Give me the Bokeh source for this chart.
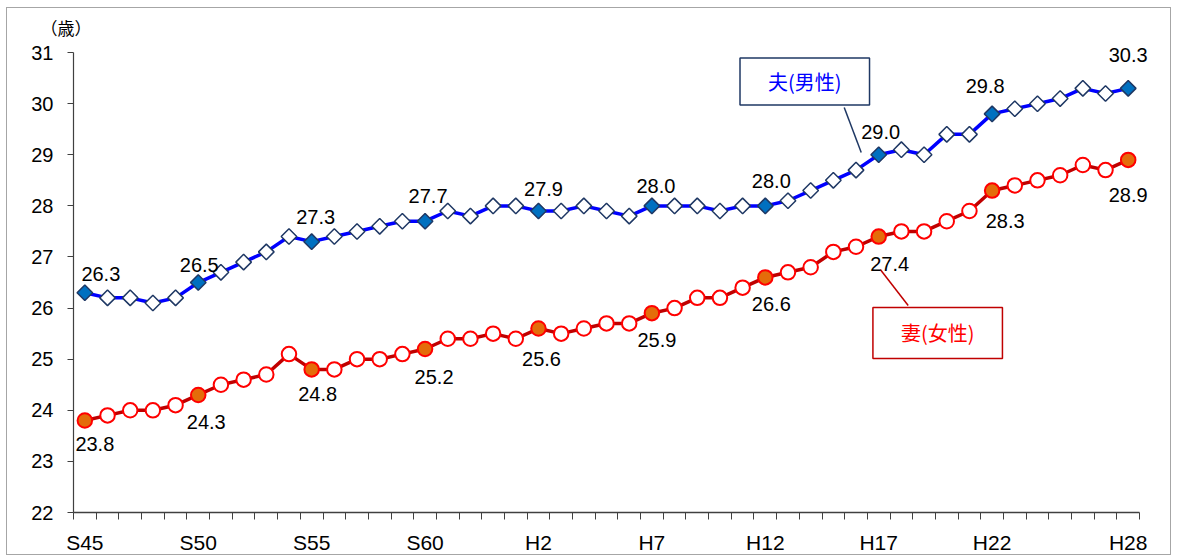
import math
from bokeh.plotting import figure
from bokeh.models import Range1d, FixedTicker, ColumnDataSource, LabelSet, Label
from bokeh.embed import file_html
from bokeh.resources import INLINE
from bokeh.core.properties import value

# ---- data ----
years = list(range(1970, 2017))
tick_years = [1970, 1975, 1980, 1985, 1990, 1995, 2000, 2005, 2010, 2016]
tick_labels = ["S45", "S50", "S55", "S60", "H2", "H7", "H12", "H17", "H22", "H28"]
husband = [26.3, 26.2, 26.2, 26.1, 26.2,
           26.5, 26.7, 26.9, 27.1, 27.4,
           27.3, 27.4, 27.5, 27.6, 27.7,
           27.7, 27.9, 27.8, 28.0, 28.0,
           27.9, 27.9, 28.0, 27.9, 27.8,
           28.0, 28.0, 28.0, 27.9, 28.0,
           28.0, 28.1, 28.3, 28.5, 28.7,
           29.0, 29.1, 29.0, 29.4, 29.4,
           29.8, 29.9, 30.0, 30.1, 30.3, 30.2,
           30.3]
wife = [23.8, 23.9, 24.0, 24.0, 24.1,
        24.3, 24.5, 24.6, 24.7, 25.1,
        24.8, 24.8, 25.0, 25.0, 25.1,
        25.2, 25.4, 25.4, 25.5, 25.4,
        25.6, 25.5, 25.6, 25.7, 25.7,
        25.9, 26.0, 26.2, 26.2, 26.4,
        26.6, 26.7, 26.8, 27.1, 27.2,
        27.4, 27.5, 27.5, 27.7, 27.9,
        28.3, 28.4, 28.5, 28.6, 28.8, 28.7,
        28.9]
labeled_years = tick_years
y_ticks = list(range(22, 32))

# label offsets in pixels (style, not data)
h_dx = [16, 1, 4, 3, 5, 4, 6, 2, -7, 0]
h_dy = [19, 18, 25, 25, 22, 20, 25, 23, 28, 33]
w_dx = [10, 8, 6, 9, 3, 5, 6, 11, 13, 0]
w_dy = [-23, -27, -25, -28, -30, -27, -27, -27, -30, -35]

NUM_FONT = "Liberation Sans"
CJK_FONT = "Noto Sans CJK JP"

p = figure(width=1165, height=548, output_backend="svg", toolbar_location=None,
           x_range=Range1d(1969.5, 2017.6), y_range=Range1d(22, 31.256),
           min_border_left=66, min_border_top=31, min_border_right=8, min_border_bottom=44)
p.outline_line_color = None
p.xgrid.visible = False
p.ygrid.visible = False
p.styles = {"border": "1px solid #A6A6A6", "margin": "7px 0px 0px 6px"}

p.title.text = "（歳）"
p.title.text_font = CJK_FONT
p.title.text_font_size = "17px"
p.title.text_font_style = "normal"
p.title.text_color = "#000000"
p.title.align = "left"
p.title.offset = -33
p.title.standoff = 0

xa = p.xaxis[0]
xa.bounds = (1969.5, 2016.5)
xa.ticker = FixedTicker(ticks=tick_years, minor_ticks=[y - 0.5 for y in years] + [years[-1] + 0.5])
xa.major_label_overrides = {yr: lab for yr, lab in zip(tick_years, tick_labels)}
xa.major_tick_out = 0
xa.major_tick_in = 0
xa.major_tick_line_color = None
xa.minor_tick_out = 7
xa.minor_tick_in = 0
xa.minor_tick_line_color = "#404040"
xa.axis_line_color = "#404040"
xa.axis_line_width = 1.5
xa.major_label_text_font = NUM_FONT
xa.major_label_text_font_size = "21px"
xa.major_label_text_color = "#000000"
xa.major_label_standoff = 11

ya = p.yaxis[0]
ya.bounds = (22, 31)
ya.ticker = FixedTicker(ticks=y_ticks, minor_ticks=[])
ya.major_tick_out = 6
ya.major_tick_in = 0
ya.major_tick_line_color = "#404040"
ya.axis_line_color = "#404040"
ya.axis_line_width = 1.2
ya.major_label_text_font = NUM_FONT
ya.major_label_text_font_size = "20px"
ya.major_label_text_color = "#000000"
ya.major_label_standoff = 14

# series
h_fill = ["#0070C0" if yr in labeled_years else "#FFFFFF" for yr in years]
w_fill = ["#E46C0A" if yr in labeled_years else "#FFFFFF" for yr in years]

p.line(years, husband, line_color="#0000FF", line_width=3.5)
p.scatter(years, husband, marker="square", angle=math.pi / 4, size=11,
          fill_color=h_fill, line_color="#1F3864", line_width=1.5)

p.line(years, wife, line_color="#C00000", line_width=3.5)
p.scatter(years, wife, marker="circle", size=14.5,
          fill_color=w_fill, line_color="#FF0000", line_width=2)

# data labels
idx = [years.index(y) for y in labeled_years]
h_src = ColumnDataSource(dict(x=labeled_years, y=[husband[i] for i in idx],
                              t=["%.1f" % husband[i] for i in idx], dx=h_dx, dy=h_dy))
w_src = ColumnDataSource(dict(x=labeled_years, y=[wife[i] for i in idx],
                              t=["%.1f" % wife[i] for i in idx], dx=w_dx, dy=w_dy))
for src in (h_src, w_src):
    p.add_layout(LabelSet(x="x", y="y", text="t", x_offset="dx", y_offset="dy", source=src,
                          text_font=value(NUM_FONT), text_font_size="20px",
                          text_align="center", text_baseline="middle", text_color="#000000"))

# callout leader lines
p.segment(x0=[2003.48], y0=[29.926], x1=[2004.23], y1=[29.045],
          line_color="#1F3864", line_width=1.5)
p.segment(x0=[2005.07], y0=[26.755], x1=[2006.30], y1=[26.051],
          line_color="#C00000", line_width=1.5)

p.add_layout(Label(x=2001.74, y=30.434, text="夫(男性)", text_font=CJK_FONT,
                   text_font_size="20px", text_align="center", text_baseline="middle",
                   text_color="#0000FF", background_fill_color="#FFFFFF",
                   border_line_color="#1F3864", border_line_width=1.5,
                   padding=dict(left=28, right=28, top=9, bottom=9)))
p.add_layout(Label(x=2007.6, y=25.513, text="妻(女性)", text_font=CJK_FONT,
                   text_font_size="20px", text_align="center", text_baseline="middle",
                   text_color="#FF0000", background_fill_color="#FFFFFF",
                   border_line_color="#C00000", border_line_width=1.5,
                   padding=dict(left=28, right=28, top=11, bottom=11)))

open("out.html", "w").write(file_html(p, INLINE))
